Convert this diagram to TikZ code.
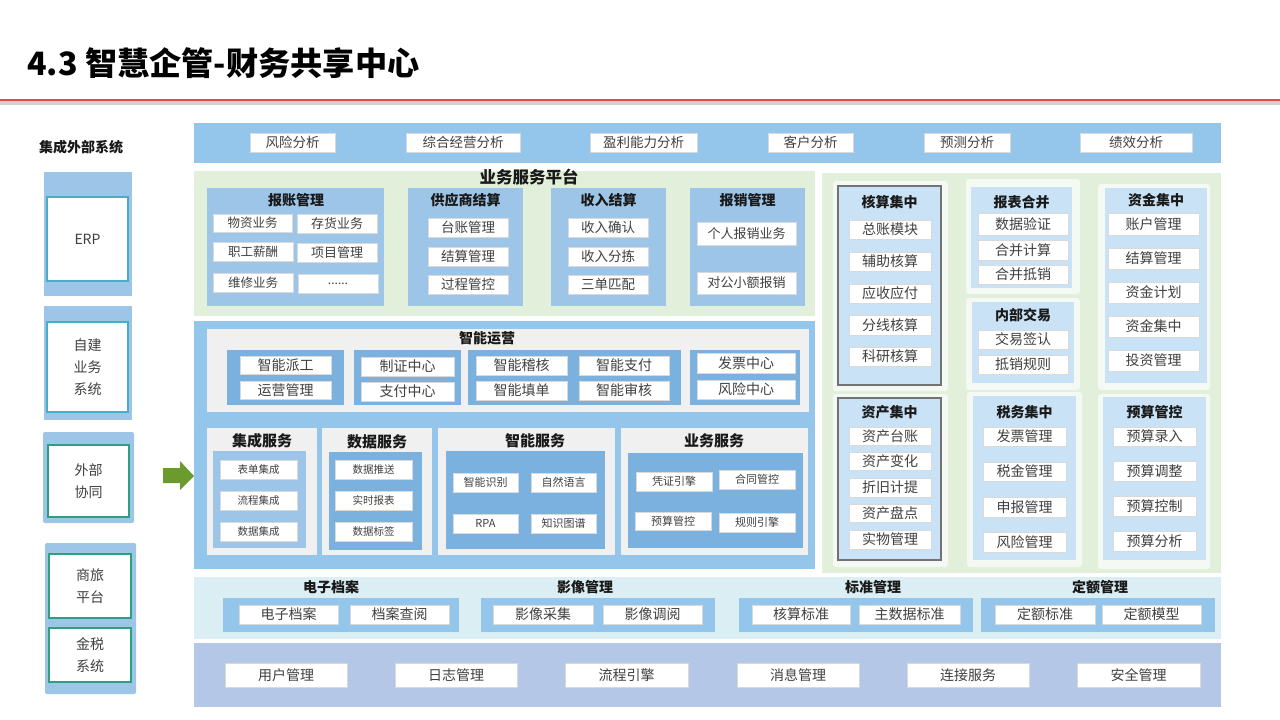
\documentclass[tikz,border=0pt]{standalone}
\usepackage{fontspec}
\setmainfont{Noto Sans CJK SC}
\usepackage{xcolor}
\usepackage{tikz}

\definecolor{barblue}{HTML}{94C5EB}
\definecolor{panelblue}{HTML}{9DC5E8}
\definecolor{deepblue}{HTML}{7AB1DE}
\definecolor{paleblue}{HTML}{C9E2F6}
\definecolor{palegreen}{HTML}{E2EFDA}
\definecolor{cardwhite}{HTML}{F5F9F3}
\definecolor{cardgray}{HTML}{F0F0F0}
\definecolor{palecyan}{HTML}{DAEEF3}
\definecolor{lavender}{HTML}{B4C7E7}
\definecolor{arrowgreen}{HTML}{6B9A2E}
\definecolor{titlered}{HTML}{E8474C}
\definecolor{cyanline}{HTML}{4BACC6}
\definecolor{tealline}{HTML}{2FA07F}
\definecolor{itemtext}{HTML}{404040}

\tikzset{
  item/.style={draw=black!15, line width=0.6pt, fill=white, text=itemtext,
    inner sep=0pt, font=\fontsize{14}{14}\selectfont},
  head/.style={inner sep=0pt, text=black!90, font=\bfseries\fontsize{14}{14}\selectfont},
  extbox/.style={line width=1.6pt, fill=white, inner sep=0pt, text=itemtext,
    align=center, font=\fontsize{14}{22}\selectfont},
}
% item box from its corners (x1,y1) (x2,y2), pixel units
\newcommand{\cell}[7][]{%
  \node[item,#1,minimum width={#5-#3},minimum height={#6-#4}] (#2)
    at ({(#3+#5)/2},{(#4+#6)/2}) {#7};}

\begin{document}
\begin{tikzpicture}[x=1pt, y=-1pt]
  \useasboundingbox (0,0) rectangle (1280,720);

  % ---- title ----
  \node[anchor=west, inner sep=0pt, font=\bfseries\fontsize{32.2}{32.2}\selectfont] (title) at (27,63) {4.3 智慧企管-财务共享中心};
  \fill[black!18] (0,101) rectangle (1280,105);
  \draw[titlered, line width=2pt] (0,100) -- (1280,100);

  % ---- left: external systems ----
  \node[head] (extsys) at (81,147) {集成外部系统};
  \fill[panelblue] (44,172) rectangle (132,296);
  \node[extbox, draw=cyanline, minimum width=81, minimum height=84] (erp) at (87.5,239) {ERP};
  \fill[panelblue] (44,306) rectangle (132,420);
  \node[extbox, draw=cyanline, minimum width=81, minimum height=90] (selfsys) at (87.5,367) {自建\\业务\\系统};
  \fill[panelblue, rounded corners=2pt] (43,432) rectangle (134,523);
  \node[extbox, draw=tealline, minimum width=81, minimum height=72] (collab) at (88.5,481) {外部\\协同};
  \fill[panelblue, rounded corners=2pt] (45,543) rectangle (136,694);
  \node[extbox, draw=tealline, minimum width=82, minimum height=64] (travel) at (90,586) {商旅\\平台};
  \node[extbox, draw=tealline, minimum width=82, minimum height=54] (goldtax) at (90,655) {金税\\系统};
  \fill[arrowgreen] (163,468) -- (180,468) -- (180,461) -- (194,476) -- (180,490) -- (180,483) -- (163,483) -- cycle;

  % ---- top bar: analysis ----
  \fill[barblue] (194,123) rectangle (1221,163);
  \foreach \n/\xa/\xb/\t in {1/250/335/风险分析, 2/406/520/综合经营分析, 3/590/697/盈利能力分析,
                             4/768/853/客户分析, 5/924/1010/预测分析, 6/1080/1192/绩效分析} {
    \cell[font=\fontsize{13.5}{13.5}\selectfont]{ana\n}{\xa}{133}{\xb}{152}{\t}
  }

  % ---- business service platform ----
  \fill[palegreen] (194,171) rectangle (815,316);
  \node[head, font=\bfseries\fontsize{16.5}{16.5}\selectfont] (bsp) at (529,177) {业务服务平台};
  \fill[panelblue] (207,188) rectangle (384,306);
  \node[head] (bzgl) at (296,200) {报账管理};
  \cell[font=\fontsize{12.5}{12.5}\selectfont]{bz1}{213}{214}{292}{232}{物资业务}
  \cell[font=\fontsize{13}{13}\selectfont]{bz2}{297}{214}{377}{233}{存货业务}
  \cell[font=\fontsize{12.5}{12.5}\selectfont]{bz3}{213}{242}{293}{261}{职工薪酬}
  \cell[font=\fontsize{13}{13}\selectfont]{bz4}{297}{243}{377}{262}{项目管理}
  \cell[font=\fontsize{12.5}{12.5}\selectfont]{bz5}{213}{273}{293}{292}{维修业务}
  \cell[font=\fontsize{12}{12}\selectfont]{bz6}{298}{274}{378}{293}{......}
  \fill[panelblue] (408,188) rectangle (523,306);
  \node[head] (gys) at (465.5,200) {供应商结算};
  \fill[panelblue] (551,188) rectangle (666,306);
  \node[head] (srjs) at (608.5,200) {收入结算};
  \foreach \n/\ya/\yb/\ta/\tb in {1/218/237/台账管理/收入确认, 2/247/266/结算管理/收入分拣, 3/275/294/过程管控/三单匹配} {
    \cell[font=\fontsize{13.5}{13.5}\selectfont]{gys\n}{428}{\ya}{508}{\yb}{\ta}
    \cell[font=\fontsize{13.5}{13.5}\selectfont]{sr\n}{568}{\ya}{648}{\yb}{\tb}
  }
  \fill[panelblue] (690,188) rectangle (805,306);
  \node[head] (bxgl) at (747.5,200) {报销管理};
  \cell[font=\fontsize{13}{13}\selectfont]{bx1}{697}{222}{796}{245}{个人报销业务}
  \cell[font=\fontsize{13}{13}\selectfont]{bx2}{697}{272}{796}{294}{对公小额报销}

  % ---- right: centralised finance ----
  \fill[palegreen] (822,173) rectangle (1221,573);
  \fill[cardwhite, rounded corners=3pt] (833,181) rectangle (948,391);
  \fill[cardwhite, rounded corners=3pt] (833,394) rectangle (948,567);
  \fill[cardwhite, rounded corners=3pt] (966,179) rectangle (1080,294);
  \fill[cardwhite, rounded corners=3pt] (966,298) rectangle (1080,390);
  \fill[cardwhite, rounded corners=3pt] (967,392) rectangle (1082,567);
  \fill[cardwhite, rounded corners=3pt] (1098,184) rectangle (1210,390);
  \fill[cardwhite, rounded corners=3pt] (1098,394) rectangle (1210,569);
  \filldraw[fill=paleblue, draw=black!55, line width=1.5pt] (838,186) rectangle (941,385);
  \filldraw[fill=paleblue, draw=black!55, line width=1.5pt] (838,398) rectangle (941,560);
  \fill[paleblue] (971,187) rectangle (1072,288);
  \fill[paleblue] (972,302) rectangle (1074,383);
  \fill[paleblue] (973,396) rectangle (1076,560);
  \fill[paleblue] (1105,188) rectangle (1207,383);
  \fill[paleblue] (1103,397) rectangle (1206,560);
  \node[head] (hsjz) at (889.5,202) {核算集中};
  \node[head] (zcjz) at (889.5,412) {资产集中};
  \node[head] (bbhb) at (1021.5,202) {报表合并};
  \node[head] (nbjy) at (1023,315) {内部交易};
  \node[head] (swjz) at (1024.5,412) {税务集中};
  \node[head] (zjjz) at (1156,200) {资金集中};
  \node[head] (ysgk) at (1154.5,412) {预算管控};
  \foreach \n/\ya/\yb/\t in {1/220/239/总账模块, 2/252/271/辅助核算, 3/284/303/应收应付, 4/315/335/分线核算, 5/347/366/科研核算} {
    \cell{hs\n}{849}{\ya}{931}{\yb}{\t}
  }
  \foreach \n/\ya/\yb/\t in {1/427/445/资产台账, 2/452/470/资产变化, 3/478/497/折旧计提, 4/504/522/资产盘点, 5/530/549/实物管理} {
    \cell{zc\n}{849}{\ya}{931}{\yb}{\t}
  }
  \foreach \n/\ya/\yb/\t in {1/213/235/数据验证, 2/240/260/合并计算, 3/265/284/合并抵销} {
    \cell{bb\n}{978}{\ya}{1068}{\yb}{\t}
  }
  \foreach \n/\ya/\yb/\t in {1/330/349/交易签认, 2/355/374/抵销规则} {
    \cell{jy\n}{978}{\ya}{1068}{\yb}{\t}
  }
  \foreach \n/\ya/\yb/\t in {1/427/446/发票管理, 2/462/481/税金管理, 3/497/517/申报管理, 4/532/552/风险管理} {
    \cell{sw\n}{983}{\ya}{1066}{\yb}{\t}
  }
  \foreach \n/\ya/\yb/\t in {1/213/235/账户管理, 2/248/269/结算管理, 3/282/303/资金计划, 4/316/337/资金集中, 5/350/371/投资管理} {
    \cell{zj\n}{1108}{\ya}{1199}{\yb}{\t}
  }
  \foreach \n/\ya/\yb/\t in {1/427/446/预算录入, 2/461/481/预算调整, 3/496/516/预算控制, 4/531/551/预算分析} {
    \cell{ys\n}{1113}{\ya}{1196}{\yb}{\t}
  }

  % ---- middle: intelligent operation ----
  \fill[barblue] (194,321) rectangle (815,569);
  \fill[cardgray] (207,329) rectangle (809,412);
  \node[head] (znyy) at (487,338) {智能运营};
  \fill[deepblue] (227,350) rectangle (344,405);
  \fill[deepblue] (354,350) rectangle (461,405);
  \fill[deepblue] (468,350) rectangle (681,405);
  \fill[deepblue] (690,350) rectangle (800,405);
  \cell{yy1}{240}{356}{331}{374}{智能派工}
  \cell{yy2}{240}{381}{331}{399}{运营管理}
  \cell{yy3}{361}{357}{454}{376}{制证中心}
  \cell{yy4}{361}{382}{454}{401}{支付中心}
  \cell{yy5}{476}{356}{567}{375}{智能稽核}
  \cell{yy6}{579}{356}{669}{375}{智能支付}
  \cell{yy7}{476}{381}{567}{400}{智能填单}
  \cell{yy8}{579}{381}{669}{400}{智能审核}
  \cell{yy9}{697}{353}{795}{373}{发票中心}
  \cell{yy10}{697}{380}{795}{399}{风险中心}

  % ---- middle: service cards ----
  \fill[cardgray] (207,428) rectangle (317,555);
  \fill[cardgray] (322,428) rectangle (432,555);
  \fill[cardgray] (438,428) rectangle (615,555);
  \fill[cardgray] (621,428) rectangle (808,555);
  \node[head, font=\bfseries\fontsize{15}{15}\selectfont] (jcfw) at (262,441) {集成服务};
  \node[head, font=\bfseries\fontsize{15}{15}\selectfont] (sjfw) at (377,442) {数据服务};
  \node[head, font=\bfseries\fontsize{15}{15}\selectfont] (znfw) at (535,441) {智能服务};
  \node[head, font=\bfseries\fontsize{15}{15}\selectfont] (ywfw) at (714,441) {业务服务};
  \fill[panelblue] (213,451) rectangle (306,548);
  \fill[deepblue] (329,452) rectangle (422,550);
  \fill[deepblue] (446,451) rectangle (605,549);
  \fill[deepblue] (628,453) rectangle (803,548);
  \foreach \n/\ya/\yb/\ta/\tb in {1/460/479/表单集成/数据推送, 2/491/510/流程集成/实时报表, 3/522/541/数据集成/数据标签} {
    \cell[font=\fontsize{10.5}{10.5}\selectfont]{jc\n}{220}{\ya}{297}{\yb}{\ta}
    \cell[font=\fontsize{10.5}{10.5}\selectfont]{sj\n}{335}{\ya}{412}{\yb}{\tb}
  }
  \cell[font=\fontsize{11}{11}\selectfont]{zn1}{453}{473}{518}{492}{智能识别}
  \cell[font=\fontsize{11}{11}\selectfont]{zn2}{531}{473}{596}{492}{自然语言}
  \cell[font=\fontsize{11}{11}\selectfont]{zn3}{453}{514}{518}{533}{RPA}
  \cell[font=\fontsize{11}{11}\selectfont]{zn4}{531}{514}{596}{533}{知识图谱}
  \cell[font=\fontsize{11}{11}\selectfont]{yw1}{636}{472}{712}{491}{凭证引擎}
  \cell[font=\fontsize{11}{11}\selectfont]{yw2}{719}{470}{795}{489}{合同管控}
  \cell[font=\fontsize{11}{11}\selectfont]{yw3}{635}{512}{711}{530}{预算管控}
  \cell[font=\fontsize{11}{11}\selectfont]{yw4}{719}{513}{795}{532}{规则引擎}

  % ---- archive / image / standard / quota ----
  \fill[palecyan] (194,577) rectangle (1221,639);
  \node[head] (dzda) at (331,587) {电子档案};
  \node[head] (yxgl) at (585,587) {影像管理};
  \node[head] (bzgl2) at (873,587) {标准管理};
  \node[head] (degl) at (1100,587) {定额管理};
  \foreach \xa/\xb in {223/459, 481/715, 739/973, 981/1215} {
    \fill[barblue] (\xa,598) rectangle (\xb,632);
  }
  \foreach \n/\xa/\xb/\t in {1/239/338/电子档案, 2/350/449/档案查阅, 3/493/593/影像采集, 4/603/702/影像调阅,
                             5/752/850/核算标准, 6/859/960/主数据标准, 7/995/1095/定额标准, 8/1102/1201/定额模型} {
    \cell{da\n}{\xa}{605}{\xb}{624}{\t}
  }

  % ---- base services ----
  \fill[lavender] (194,643) rectangle (1221,707);
  \foreach \n/\xa/\xb/\t in {1/225/347/用户管理, 2/395/517/日志管理, 3/565/688/流程引擎,
                             4/737/859/消息管理, 5/907/1029/连接服务, 6/1077/1200/安全管理} {
    \cell{base\n}{\xa}{663}{\xb}{687}{\t}
  }
\end{tikzpicture}
\end{document}
